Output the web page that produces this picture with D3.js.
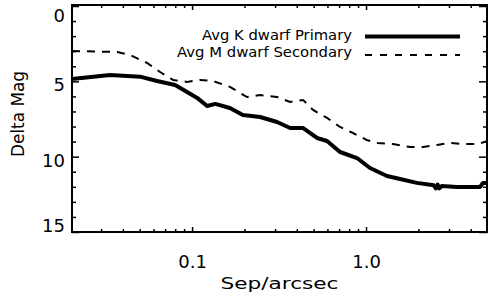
<!DOCTYPE html>
<html>
<head>
<meta charset="utf-8">
<script src="https://cdn.jsdelivr.net/npm/d3@7"></script>
<style>
body{margin:0;background:#fff;}
text{font-family:"DejaVu Sans",sans-serif;fill:#000;}
</style>
</head>
<body>
<svg id="graph"></svg>
<script>
// avg K dwarf primary (thick solid)
var primSep=[0.0204,0.027,0.0338,0.0502,0.0629,0.0798,0.0936,0.107,0.122,0.136,0.165,0.196,0.246,0.308,0.366,0.435,0.523,0.597,0.709,0.888,1.054,1.32,1.57,1.96,2.45,2.52,2.58,2.64,2.72,3.33,4.52,4.70,4.96]
var primMag=[4.84,4.69,4.58,4.69,4.98,5.24,5.71,6.10,6.64,6.50,6.77,7.23,7.37,7.70,8.10,8.10,8.76,8.96,9.69,10.09,10.75,11.28,11.48,11.74,11.9,12.1,11.85,12.1,11.95,12.01,12.01,11.75,11.75]
// avg M dwarf secondary (dashed)
var secSep=[0.0204,0.0371,0.044,0.0551,0.0655,0.0778,0.0936,0.111,0.132,0.165,0.207,0.246,0.308,0.366,0.435,0.496,0.597,0.709,0.842,1.01,1.16,1.43,1.79,2.13,2.56,3.04,3.61,4.35,4.83,4.96]
var secMag=[2.99,3.05,3.25,3.78,4.38,4.91,5.04,4.91,4.98,5.37,6.04,5.91,6.04,6.37,6.24,6.90,7.43,8.03,8.43,8.89,9.09,9.16,9.36,9.36,9.22,9.09,9.16,9.16,9.02,8.95]

var xMajor=[0.1,1]
var xLabels=["0.1","1.0"]
var xMinor=[0.03,0.04,0.05,0.06,0.07,0.08,0.09,0.2,0.3,0.4,0.5,0.6,0.7,0.8,0.9,2,3,4]
var yMajor=[0,5,10,15]
var yMinor=[1,2,3,4,6,7,8,9,11,12,13,14]
var legendNames=["Avg K dwarf Primary","Avg M dwarf Secondary"]

var width=498, height=304
var plot={left:72, right:487, top:5, bottom:232}

var svg=d3.select("svg")
    .attr("width",width)
    .attr("height",height)

var x=d3.scaleLog().domain([0.0204,4.96]).range([plot.left,plot.right])
var y=d3.scaleLinear().domain([0,15]).range([6,plot.bottom])

var noDomain=function(g){g.select(".domain").remove()}

// clip for the curves
svg.append("clipPath").attr("id","clip")
    .append("rect")
    .attr("x",plot.left).attr("y",plot.top)
    .attr("width",plot.right-plot.left).attr("height",plot.bottom-plot.top)

var line=d3.line()
    .x(function(d){return x(d[0])})
    .y(function(d){return y(d[1])})

var prim=d3.zip(primSep,primMag)
var sec=d3.zip(secSep,secMag)

svg.append("path")
    .datum(sec)
    .attr("clip-path","url(#clip)")
    .attr("d",line)
    .attr("fill","none")
    .attr("stroke","#000")
    .attr("stroke-width",2)
    .attr("stroke-dasharray","8,7")

svg.append("path")
    .datum(prim)
    .attr("clip-path","url(#clip)")
    .attr("d",line)
    .attr("fill","none")
    .attr("stroke","#000")
    .attr("stroke-width",4)
    .attr("stroke-linejoin","round")

// frame
svg.append("rect")
    .attr("x",plot.left).attr("y",plot.top)
    .attr("width",plot.right-plot.left).attr("height",plot.bottom-plot.top)
    .attr("fill","none").attr("stroke","#000").attr("stroke-width",2)

// axes, ticks pointing inward
var addAxis=function(axis,tx,ty){
    var g=svg.append("g")
        .attr("transform","translate("+tx+","+ty+")")
        .call(axis)
        .call(noDomain)
    g.selectAll("line").attr("stroke-width",1.5)
    g.selectAll("text").style("font-size","18px").attr("fill","#000")
    return g
}

var left=addAxis(d3.axisLeft(y).tickValues(yMajor).tickSize(-7).tickPadding(7).tickFormat(d3.format("d")),plot.left,0)
left.selectAll("text")
    .attr("dy",null)
    .attr("y",function(d){
        var c=Math.min(Math.max(y(d)+3,15),225)
        return c-y(d)+6.5
    })
addAxis(d3.axisLeft(y).tickValues(yMinor).tickSize(-4).tickFormat(""),plot.left,0)
addAxis(d3.axisRight(y).tickValues(yMajor).tickSize(-8).tickFormat(""),plot.right,0)
addAxis(d3.axisRight(y).tickValues(yMinor).tickSize(-4).tickFormat(""),plot.right,0)

addAxis(d3.axisBottom(x).tickValues(xMajor).tickSize(-5).tickPadding(23)
    .tickFormat(function(d,i){return xLabels[i]}),0,plot.bottom)
addAxis(d3.axisBottom(x).tickValues(xMinor).tickSize(-3).tickFormat(""),0,plot.bottom)
addAxis(d3.axisTop(x).tickValues(xMajor).tickSize(-5).tickFormat(""),0,plot.top)
addAxis(d3.axisTop(x).tickValues(xMinor).tickSize(-3).tickFormat(""),0,plot.top)

// axis titles
svg.append("text")
    .attr("x",(plot.left+plot.right)/2)
    .attr("y",289)
    .attr("text-anchor","middle")
    .style("font-size","16.5px")
    .attr("textLength",118)
    .attr("lengthAdjust","spacingAndGlyphs")
    .text("Sep/arcsec")

svg.append("text")
    .attr("transform","translate(24,114) rotate(-90)")
    .attr("text-anchor","middle")
    .style("font-size","18px")
    .attr("textLength",86)
    .attr("lengthAdjust","spacingAndGlyphs")
    .text("Delta Mag")

// legend
var legendY=[40,57]
var legendW=[150,175]
var legend=svg.selectAll(".legend")
    .data(legendNames)
    .enter()
    .append("g")
    .attr("class","legend")
    .attr("transform",function(d,i){return "translate(0,"+legendY[i]+")"})

legend.append("text")
    .attr("x",352)
    .attr("text-anchor","end")
    .style("font-size","14px")
    .attr("textLength",function(d,i){return legendW[i]})
    .attr("lengthAdjust","spacingAndGlyphs")
    .text(function(d){return d})

legend.append("line")
    .attr("x1",365).attr("x2",460)
    .attr("y1",function(d,i){return i==0?-3.5:-2})
    .attr("y2",function(d,i){return i==0?-3.5:-2})
    .attr("stroke","#000")
    .attr("stroke-width",function(d,i){return i==0?4:2})
    .attr("stroke-dasharray",function(d,i){return i==0?null:"7,8"})
</script>
</body>
</html>
